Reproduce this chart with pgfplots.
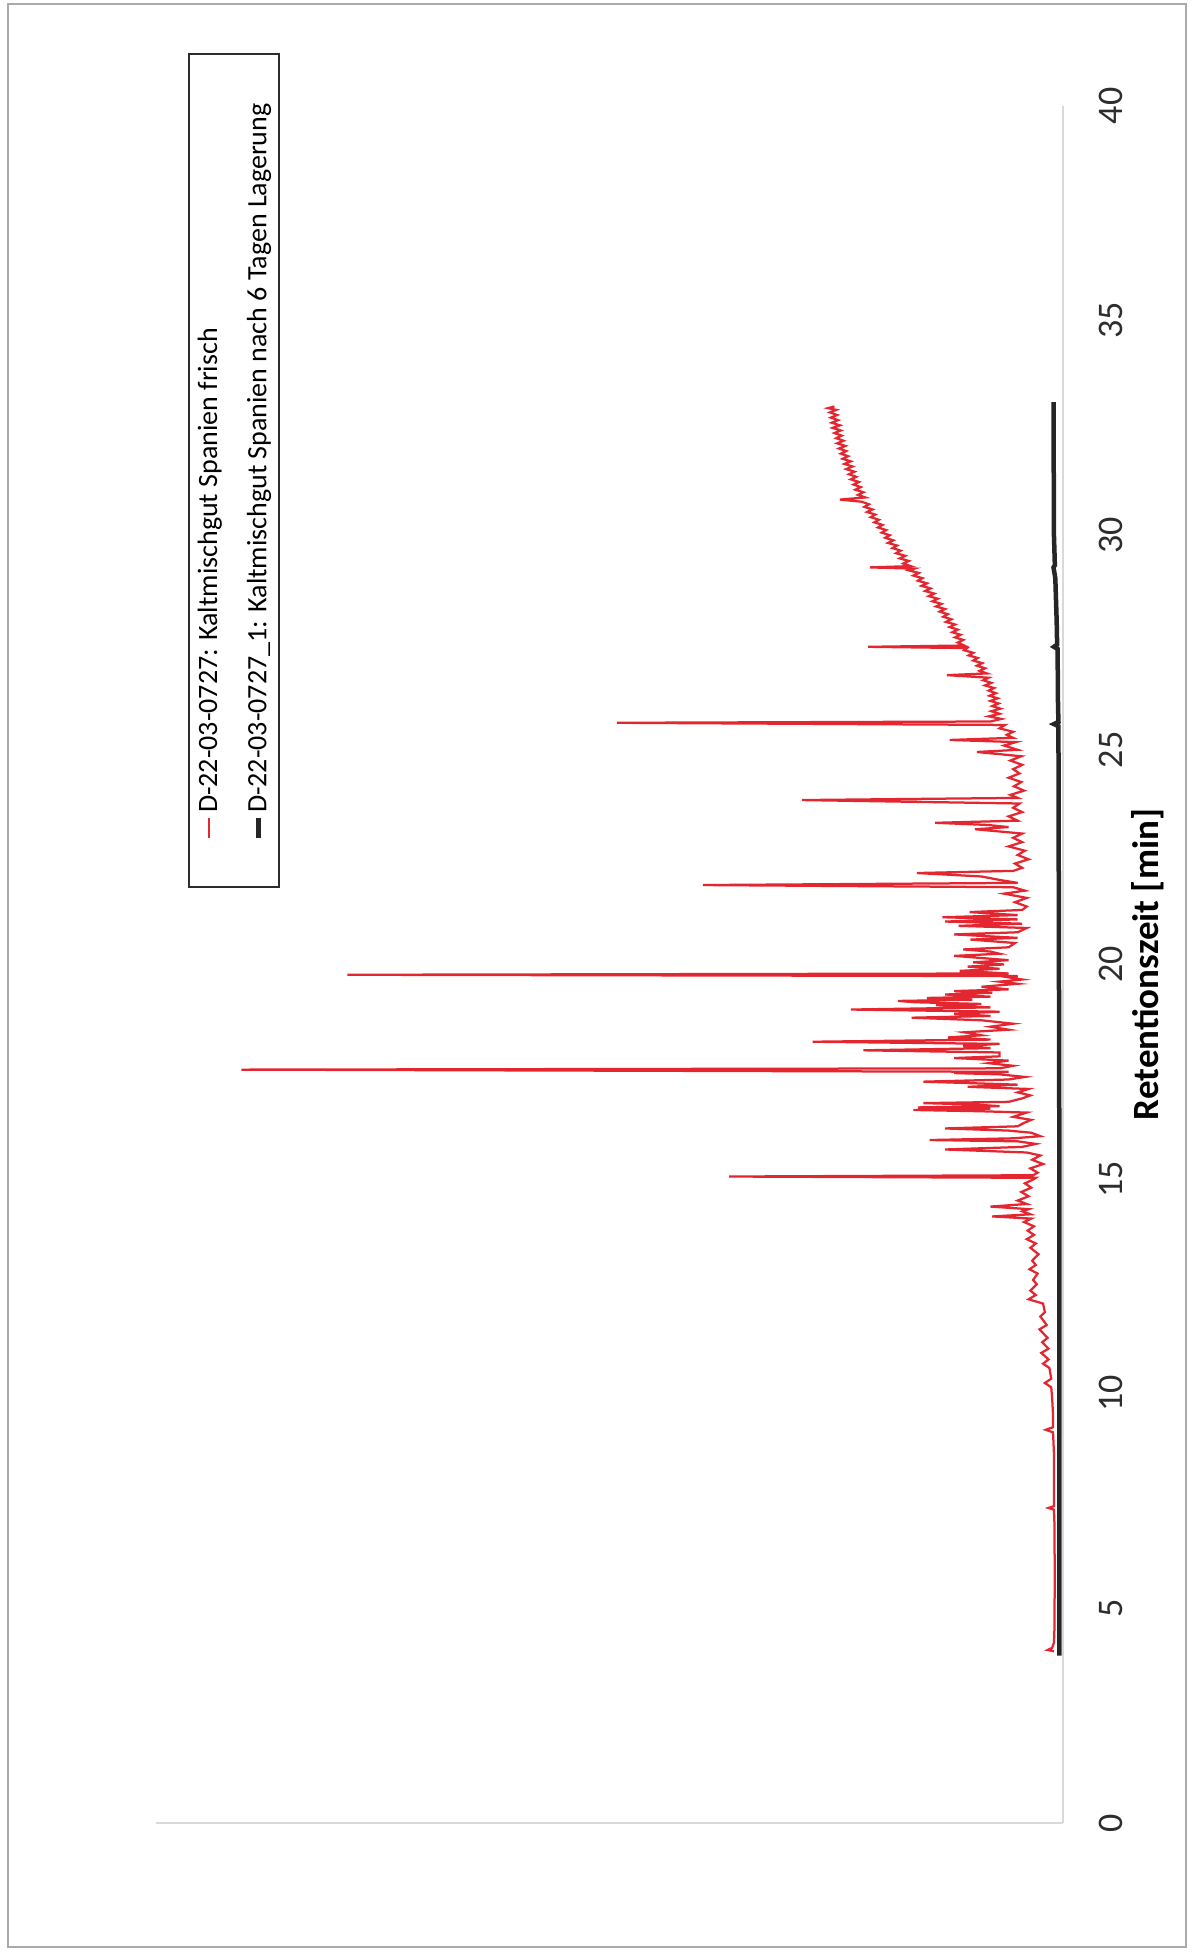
\documentclass[border=0pt]{standalone}
\usepackage{pgfplots}
\pgfplotsset{compat=1.18}
\usepackage{fontspec}
\setmainfont{Carlito}
\definecolor{exred}{RGB}{228,38,48}
\definecolor{axgray}{RGB}{217,217,217}
\definecolor{framegray}{RGB}{170,170,170}
\definecolor{txtgray}{RGB}{45,45,45}
\begin{document}
\begin{tikzpicture}[rotate=90, transform shape]
\begin{axis}[
 scale only axis, width=686.8pt, height=362.8pt,
 xmin=0, xmax=40, ymin=0, ymax=100,
 axis lines=left, axis line style={-, draw=axgray, line width=1pt},
 xtick={0,5,...,40}, ytick=\empty, major tick length=0pt,
 /pgf/number format/assume math mode=true,
 xticklabel style={font=\fontsize{14.4}{16}\selectfont, text=txtgray},
 xticklabel shift=11pt,
 xlabel={Retentionszeit [min]},
 xlabel style={font=\bfseries\fontsize{14.8}{17}\selectfont, at={(axis description cs:0.5,0)}, anchor=center, yshift=-34pt},
 clip=false,
 legend style={at={(rel axis cs:1.0309,0.9647)}, anchor=north east, draw=txtgray, line width=0.8pt, inner xsep=18.8pt, inner ysep=1.5pt, font=\fontsize{11.2}{13}\selectfont, cells={anchor=west}, row sep=6.4pt, nodes={inner xsep=1pt}},
 legend cell align=left,
 legend image code/.code={\draw[#1] (0pt,0pt) -- (8pt,0pt);},
]
\addplot[exred, line width=0.9pt] coordinates {
(4.00,1.0) (4.03,1.7) (4.08,1.2) (4.2,1.0) (4.5,0.95) (5,0.95) (5.5,0.9) (6,0.9) (6.5,0.95) (7,0.95)
(7.30,1.0) (7.34,1.6) (7.38,1.0) (8.0,1.0) (8.6,1.0) (9.10,1.1) (9.16,1.9) (9.22,1.1) (9.5,1.1) (9.9,1.2)
(10.15,1.3) (10.25,2.0) (10.35,1.3) (10.6,1.5) (10.7,2.2) (10.8,1.6) (10.95,2.4) (11.05,1.6) (11.2,2.3) (11.3,1.7)
(11.5,2.6) (11.6,1.8) (11.8,2.5) (11.9,2.0) (12.1,2.2) (12.2,3.8) (12.3,3.0) (12.4,3.6) (12.55,2.9) (12.65,3.3)
(12.8,2.8) (12.9,3.7) (13.0,3.0) (13.1,3.4) (13.25,2.7) (13.4,3.6) (13.5,3.0) (13.6,4.0) (13.7,3.2) (13.8,3.9)
(13.9,3.2) (14.0,4.3) (14.08,3.5) (14.13,7.8) (14.18,3.6) (14.25,4.5) (14.3,3.8) (14.36,8.0) (14.42,4.0) (14.5,5.0)
(14.6,3.8) (14.7,4.6) (14.8,3.5) (14.9,4.2) (15.0,3.2) (15.03,3.0) (15.06,36.8) (15.09,3.3) (15.15,2.8) (15.25,3.6)
(15.35,2.2) (15.45,3.4) (15.55,2.5) (15.62,4.0) (15.69,13.0) (15.75,4.5) (15.82,3.0) (15.88,5.0) (15.91,14.7) (15.95,5.5)
(16.0,2.5) (16.08,3.5) (16.13,6) (16.18,13.0) (16.23,5.0) (16.3,4.4) (16.38,3.5) (16.45,5.5) (16.55,4.0) (16.58,9)
(16.61,16.5) (16.64,8) (16.67,16.0) (16.7,7) (16.74,10) (16.77,15.4) (16.8,6) (16.88,4.5) (16.95,3.6) (17.02,5.0)
(17.1,3.8) (17.15,10.5) (17.2,5) (17.27,15.4) (17.32,6) (17.38,4.2) (17.44,7) (17.47,12) (17.5,6) (17.55,90.6)
(17.58,7) (17.64,5.5) (17.7,8.2) (17.76,6) (17.82,12) (17.86,7) (17.95,7) (18.0,22) (18.05,8) (18.1,11)
(18.15,7) (18.2,27.6) (18.25,8) (18.3,12.7) (18.35,9) (18.42,10.9) (18.48,6) (18.55,8) (18.62,5.5) (18.7,9)
(18.76,16.7) (18.8,8) (18.85,12) (18.9,7) (18.95,23.4) (19.0,8) (19.05,14) (19.08,9) (19.12,16.3) (19.15,18.2)
(19.18,10) (19.22,15) (19.25,8) (19.3,13) (19.34,7.8) (19.38,12) (19.42,6) (19.48,9) (19.55,5) (19.6,7)
(19.65,4.5) (19.7,6) (19.73,5) (19.76,78.9) (19.79,6) (19.85,11.4) (19.9,7) (19.95,10.5) (20.0,6.5) (20.05,9.9)
(20.1,6) (20.2,12) (20.25,7) (20.3,8) (20.35,11) (20.4,6) (20.5,5.3) (20.58,10.2) (20.62,5) (20.7,12)
(20.75,5) (20.85,4) (20.9,11.5) (20.95,4.5) (21.0,13.0) (21.05,5) (21.1,13.3) (21.15,5) (21.22,10.3) (21.27,4.5)
(21.35,4.0) (21.45,5.3) (21.55,4) (21.65,6.5) (21.72,4.2) (21.8,5.5) (21.85,39.7) (21.9,5) (21.97,7) (22.05,9)
(22.13,16.1) (22.18,5.5) (22.25,4.5) (22.35,5.3) (22.45,3.8) (22.55,5) (22.65,4.2) (22.75,6) (22.85,4.5) (22.95,5.5)
(23.05,4.5) (23.15,9.7) (23.2,6) (23.25,8.3) (23.3,14.1) (23.35,5) (23.45,6) (23.55,4.5) (23.65,5.5) (23.75,4.8)
(23.83,28.8) (23.88,5) (23.95,5.8) (24.05,4.3) (24.15,5.4) (24.25,4.6) (24.35,6) (24.45,4.8) (24.55,5.5) (24.65,4.5)
(24.75,5.8) (24.85,4.6) (24.95,9.5) (25.0,5) (25.1,6.5) (25.18,5.2) (25.23,12.5) (25.28,5.5) (25.35,6.2) (25.42,5.5)
(25.5,7) (25.58,6.4) (25.63,49.2) (25.66,8) (25.72,6.8) (25.78,8.2) (25.84,7.0) (25.9,7.9) (25.96,6.9) (26.02,7.8)
(26.08,7.1) (26.14,8.0) (26.2,7.2) (26.26,8.1) (26.32,7.4) (26.38,8.2) (26.44,7.6) (26.5,8.6) (26.56,7.9) (26.62,8.8)
(26.68,8.2) (26.74,12.8) (26.78,8.4) (26.84,9.2) (26.9,8.6) (26.96,9.5) (27.02,8.9) (27.08,9.9) (27.14,9.4) (27.2,10.4)
(27.26,9.9) (27.32,10.9) (27.37,10.6) (27.4,21.5) (27.43,10.9) (27.5,11.6) (27.56,11.0) (27.62,11.9) (27.68,11.3) (27.74,12.2)
(27.8,11.6) (27.86,12.5) (27.92,11.9) (27.98,12.9) (28.04,12.3) (28.1,13.2) (28.16,12.7) (28.22,13.6) (28.28,13.0) (28.34,14.0)
(28.4,13.4) (28.46,14.4) (28.52,13.8) (28.58,14.8) (28.64,14.2) (28.7,15.2) (28.76,14.6) (28.82,15.6) (28.88,15.0) (28.94,16.0)
(29.0,15.5) (29.06,16.5) (29.12,15.9) (29.18,17.0) (29.22,16.4) (29.25,21.3) (29.28,16.8) (29.34,17.6) (29.4,17.0) (29.46,18.0)
(29.52,17.4) (29.58,18.4) (29.64,17.9) (29.7,18.8) (29.76,18.3) (29.82,19.3) (29.88,18.7) (29.94,19.6) (30.0,19.1) (30.06,20.0)
(30.12,19.5) (30.18,20.4) (30.24,19.9) (30.3,20.8) (30.36,20.3) (30.42,21.2) (30.48,20.7) (30.54,21.6) (30.6,21.0) (30.66,21.9)
(30.72,21.4) (30.78,22.2) (30.83,24.6) (30.88,21.8) (30.94,22.6) (31.0,22.0) (31.06,22.9) (31.12,22.3) (31.18,23.1) (31.24,22.5)
(31.3,23.4) (31.36,22.8) (31.42,23.6) (31.48,23.0) (31.54,23.9) (31.6,23.2) (31.66,24.1) (31.72,23.4) (31.78,24.3) (31.84,23.7)
(31.9,24.5) (31.96,23.9) (32.02,24.7) (32.08,24.0) (32.14,24.9) (32.2,24.2) (32.26,25.0) (32.32,24.4) (32.38,25.2) (32.44,24.5)
(32.5,25.4) (32.56,24.6) (32.62,25.5) (32.68,24.8) (32.74,25.6) (32.8,24.9) (32.86,25.7) (32.92,25.0) (32.96,25.9) (33.0,25.2)
};
\addplot[black!85, line width=1.8pt] coordinates {
(3.9,0.4) (10,0.4) (15,0.4) (20,0.45) (25,0.5) (25.55,0.5) (25.6,1.0) (25.65,0.5) (26,0.55) (27.35,0.6)
(27.4,1.0) (27.45,0.65) (28,0.7) (29,0.85) (29.25,1.05) (29.3,0.9) (30,1.0) (31,1.0) (32,1.05) (33.1,1.05)
};
\legend{D-22-03-0727: Kaltmischgut Spanien frisch, D-22-03-0727\_1: Kaltmischgut Spanien nach 6 Tagen Lagerung}
\draw[framegray, line width=0.6pt] (rel axis cs:-0.0722,-0.1356) rectangle (rel axis cs:1.0594,1.1632);
\path (rel axis cs:-0.0763,-0.1422) rectangle (rel axis cs:1.0617,1.172);
\end{axis}
\end{tikzpicture}
\end{document}
